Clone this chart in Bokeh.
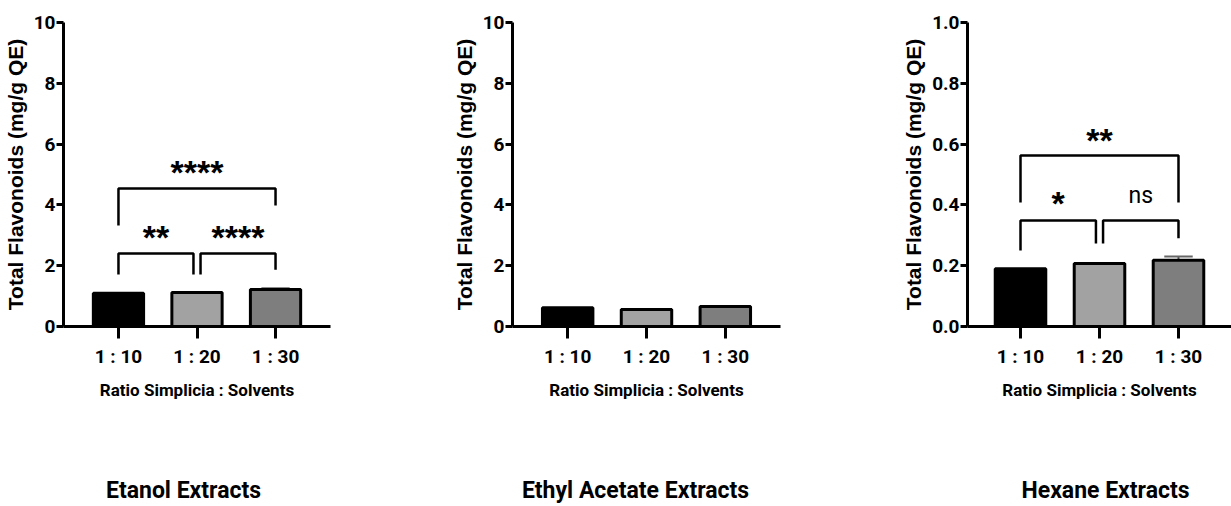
from bokeh.plotting import figure
from bokeh.models import FactorRange, Range1d, FixedTicker, NumeralTickFormatter, ColumnDataSource
from bokeh.layouts import row, column
from bokeh.core.properties import value
from bokeh.embed import file_html
from bokeh.resources import INLINE

# ---------------- data ----------------
ratios = ["1 : 10", "1 : 20", "1 : 30"]
bar_colors = ["#000000", "#a2a2a2", "#7e7e7e"]

etanol_values = [1.09, 1.12, 1.22]
etanol_errors = [0.0, 0.0, 0.04]
ethyl_values = [0.62, 0.56, 0.66]
ethyl_errors = [0.0, 0.0, 0.0]
hexane_values = [0.190, 0.207, 0.218]
hexane_errors = [0.0, 0.0, 0.012]

# significance brackets (pairs of ratio indices)
sig_pairs = [(0, 1), (1, 2), (0, 2)]
etanol_sig_tops = [2.40, 2.40, 4.54]
etanol_sig_left_ends = [1.71, 1.71, 3.32]
etanol_sig_right_ends = [1.71, 1.87, 3.98]
etanol_sig_labels = ["**", "****", "****"]
etanol_sig_label_y = [3.09, 3.09, 5.20]

hexane_sig_tops = [0.349, 0.349, 0.5625]
hexane_sig_left_ends = [0.250, 0.273, 0.408]
hexane_sig_right_ends = [0.273, 0.290, 0.408]
hexane_sig_labels = ["*", "ns", "**"]
hexane_sig_label_y = [0.420, 0.424, 0.628]

y_label = "Total Flavonoids (mg/g QE)"
x_label = "Ratio Simplicia : Solvents"
titles = ["Etanol Extracts", "Ethyl Acetate Extracts", "Hexane Extracts"]

COND = "Roboto"
ARIAL = "Liberation Sans"


def make_panel(vals, errs, y_end, ticks, fmt, bl, br, width, pad, sig=None):
    p = figure(width=width, height=456,
               x_range=FactorRange(*ratios, range_padding=pad),
               y_range=Range1d(0, y_end),
               output_backend="svg", toolbar_location=None,
               min_border_left=bl, min_border_right=br,
               min_border_top=22, min_border_bottom=130)
    p.grid.visible = False
    p.outline_line_color = None
    p.background_fill_color = "white"
    p.border_fill_color = "white"

    src = ColumnDataSource(dict(x=ratios, top=vals, color=bar_colors))
    err_x = [r for r, e in zip(ratios, errs) if e > 0]
    err_v = [v for v, e in zip(vals, errs) if e > 0]
    err_u = [v + e for v, e in zip(vals, errs) if e > 0]
    if err_x:
        p.segment(x0=err_x, y0=err_v, x1=err_x, y1=err_u, line_color="#555555", line_width=2)
        idx = [ratios.index(r) for r in err_x]
        p.segment(x0=[i + 0.5 - 0.18 for i in idx], y0=err_u,
                  x1=[i + 0.5 + 0.18 for i in idx], y1=err_u,
                  line_color="#666666", line_width=2)
    p.vbar(x="x", top="top", width=0.64, bottom=0, source=src,
           fill_color="color", line_color="black", line_width=3)

    if sig is not None:
        tops, lends, rends, labels, ly = sig
        gap = 0.045
        xs, ys, lx = [], [], []
        for (i, j), t, le, re in zip(sig_pairs, tops, lends, rends):
            x0 = i + 0.5 + (gap if (j - i == 1 and i > 0) else 0)
            x1 = j + 0.5 - (gap if (j - i == 1 and j < 2) else 0)
            xs.append([x0, x0, x1, x1])
            ys.append([le, t, t, re])
            lx.append((x0 + x1) / 2)
        p.multi_line(xs=xs, ys=ys, line_color="black", line_width=2.5)
        star_x = [x for x, l in zip(lx, labels) if l != "ns"]
        star_y = [y for y, l in zip(ly, labels) if l != "ns"]
        star_t = [l for l in labels if l != "ns"]
        p.text(x=star_x, y=star_y, text=star_t, text_align="center",
               text_baseline="alphabetic", text_font=value(ARIAL),
               text_font_style="bold", text_font_size="34px", y_offset=4,
               text_color="black")
        ns_x = [x for x, l in zip(lx, labels) if l == "ns"]
        ns_y = [y for y, l in zip(ly, labels) if l == "ns"]
        if ns_x:
            p.text(x=ns_x, y=ns_y, text=["ns"] * len(ns_x), text_align="center",
                   text_baseline="alphabetic", text_font=value(COND),
                   text_font_size="23px", y_offset=-2, text_color="black")

    ax = p.xaxis[0]
    ax.axis_line_width = 3
    ax.major_tick_line_width = 3
    ax.major_tick_out = 12
    ax.major_tick_in = 0
    ax.major_label_text_font = COND
    ax.major_label_text_font_style = "bold"
    ax.major_label_text_font_size = "19px"
    ax.major_label_text_color = "black"
    ax.major_label_standoff = 6
    ax.axis_label = x_label
    ax.axis_label_text_font = COND
    ax.axis_label_text_font_style = "bold"
    ax.axis_label_text_font_size = "17px"
    ax.axis_label_standoff = 9
    ax.axis_label_text_color = "black"

    ay = p.yaxis[0]
    ay.ticker = FixedTicker(ticks=ticks)
    ay.formatter = NumeralTickFormatter(format=fmt)
    ay.axis_line_width = 3
    ay.major_tick_line_width = 3
    ay.major_tick_out = 7
    ay.major_tick_in = 0
    ay.minor_tick_line_color = None
    ay.major_label_text_font = COND
    ay.major_label_text_font_style = "bold"
    ay.major_label_text_font_size = "19px"
    ay.major_label_text_color = "black"
    ay.major_label_standoff = 1
    ay.axis_label = y_label
    ay.axis_label_text_font = ARIAL
    ay.axis_label_text_font_style = "bold"
    ay.axis_label_text_font_size = "21px"
    ay.axis_label_standoff = 4
    ay.axis_label_text_color = "black"
    return p


def make_title(text, cx, width):
    t = figure(width=width, height=50, x_range=Range1d(0, width), y_range=Range1d(0, 50),
               output_backend="svg", toolbar_location=None,
               min_border=0, outline_line_color=None)
    t.axis.visible = False
    t.grid.visible = False
    t.text(x=[cx], y=[16], text=[text], text_align="center", text_baseline="middle",
           text_font=value(COND), text_font_style="bold", text_font_size="23px",
           text_color="black")
    return t


p1 = make_panel(etanol_values, etanol_errors, 10, [0, 2, 4, 6, 8, 10], "0",
                bl=60, br=83, width=413, pad=0.1333,
                sig=(etanol_sig_tops, etanol_sig_left_ends, etanol_sig_right_ends,
                     etanol_sig_labels, etanol_sig_label_y))
p2 = make_panel(ethyl_values, ethyl_errors, 10, [0, 2, 4, 6, 8, 10], "0",
                bl=99, br=38, width=405, pad=0.1333)
p3 = make_panel(hexane_values, hexane_errors, 1.0, [0, 0.2, 0.4, 0.6, 0.8, 1.0], "0.0",
                bl=149, br=0, width=413, pad=0.114,
                sig=(hexane_sig_tops, hexane_sig_left_ends, hexane_sig_right_ends,
                     hexane_sig_labels, hexane_sig_label_y))

t1 = make_title(titles[0], 183, 413)
t2 = make_title(titles[1], 222, 405)
t3 = make_title(titles[2], 287, 413)

layout = column(row(p1, p2, p3, spacing=0), row(t1, t2, t3, spacing=0), spacing=0)
open("out.html", "w").write(file_html(layout, INLINE))
